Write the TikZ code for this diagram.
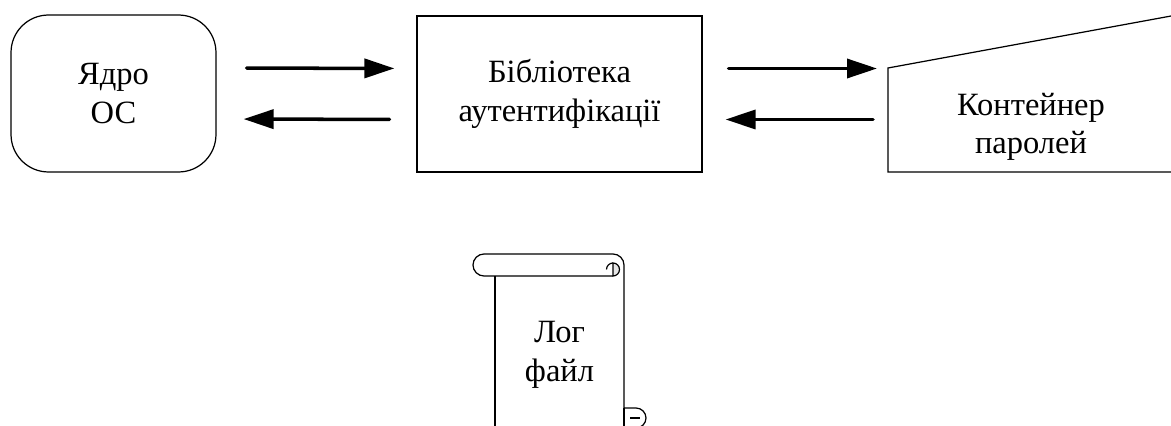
\documentclass[tikz,border=0pt]{standalone}
\usepackage{fontspec}
\setmainfont{Liberation Serif}
\usetikzlibrary{arrows.meta}

\begin{document}
\begin{tikzpicture}[x=0.02cm,y=0.02cm,
  every node/.style={font=\fontsize{18.5}{22}\selectfont, align=center},
  block/.style={draw, line width=0.7pt, minimum width=5.7cm, minimum height=3.12cm},
  flow/.style={-{Triangle[length=6mm,width=3.8mm]}, line width=2pt, line cap=round}]
\useasboundingbox (0,0) rectangle (1171,426);
\clip (0,0) rectangle (1171,426);

\node[block, rounded corners=0.75cm, minimum width=4.1cm, minimum height=3.14cm] (kernel) at (113.5,332.5) {Ядро\\ОС};
\node[block] (lib) at (559.5,332) {Бібліотека\\аутентифікації};

% password store, runs past the right edge
\draw[line width=0.7pt] (888,254) -- (888,358) -- (1200,415.3) -- (1200,254) -- cycle;
\coordinate (store) at (888,332);
\node (storetext) at (1031,299) {Контейнер\\паролей};

\draw[flow, shorten <=0.6cm, shorten >=0.44cm] ([yshift=0.51cm]kernel.east) -- ([yshift=0.51cm]lib.west);
\draw[flow, shorten <=0.54cm, shorten >=0.54cm] ([yshift=-0.51cm]lib.west) -- ([yshift=-0.51cm]kernel.east);
\draw[flow, shorten <=0.52cm, shorten >=0.22cm] ([yshift=0.51cm]lib.east) -- ([yshift=0.51cm]store);
\draw[flow, shorten <=0.3cm, shorten >=0.46cm] ([yshift=-0.51cm]store) -- ([yshift=-0.51cm]lib.east);

% log file scroll
\draw[line width=0.7pt] (484,172) -- (613,172) arc[start angle=90,end angle=0,radius=11]
  -- (624,18) -- (636,18) arc[start angle=90,end angle=-120,radius=10];
\draw[line width=0.7pt] (484,172) arc[start angle=90,end angle=270,radius=11] -- (613,150);
\draw[line width=0.7pt, fill=gray!20] (613,150) arc[start angle=-90,end angle=90,radius=6.5] -- cycle;
\draw[line width=0.7pt] (613,163) arc[start angle=90,end angle=180,radius=6.5];
\draw[line width=0.7pt] (624,18) -- (624,-5);
\draw[line width=0.7pt] (630,8) -- (640,8);
\draw[line width=0.7pt] (495,150) -- (495,-5);
\node (log) at (559.5,71) {Лог\\файл};
\end{tikzpicture}
\end{document}
